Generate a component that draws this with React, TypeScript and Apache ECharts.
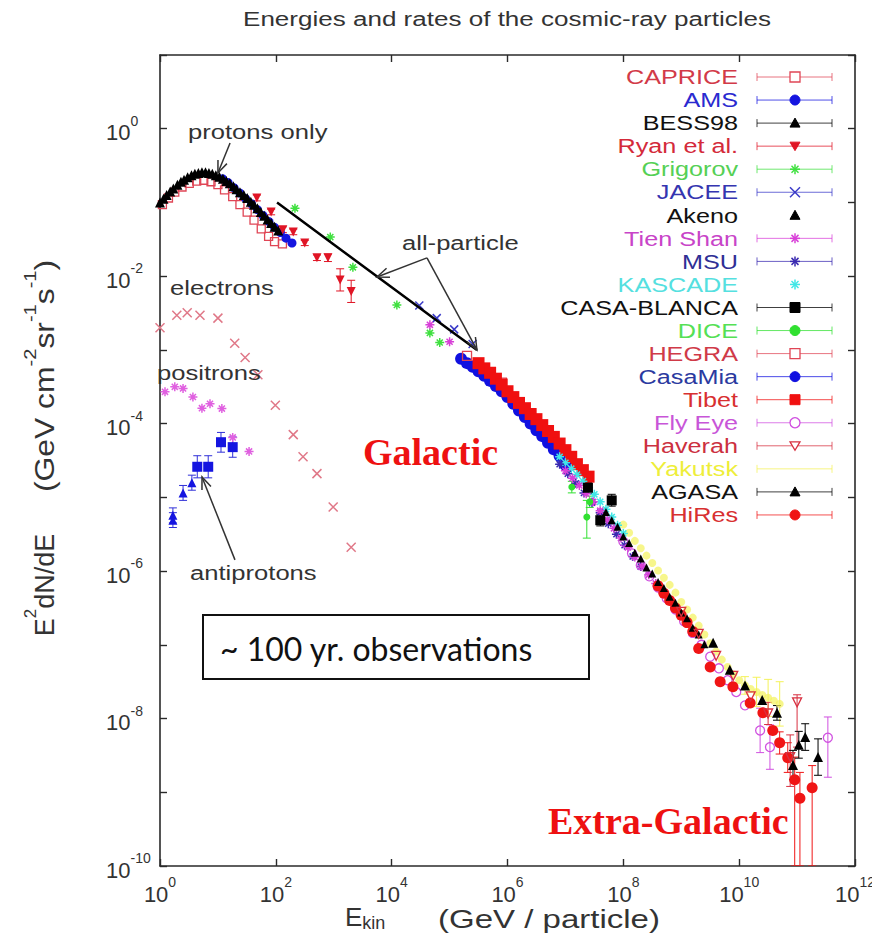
import React, { useEffect, useRef } from 'react';
import * as echarts from 'echarts';

// ---------- axis setup ----------
const X_MIN = 1;
const X_MAX = 1e12;
const Y_MIN = 1e-10;
const Y_MAX = 10;

// ---------- protons (GeV, GeV cm^-2 sr^-1 s^-1) ----------
const bessE = [1.0, 1.15, 1.3, 1.5, 1.7, 2.0, 2.3, 2.6, 3.0, 3.5, 4.0, 4.6, 5.3, 6.1, 7.0, 8.0, 9.2, 10.6, 12.2, 14, 16, 18.5, 21, 24, 28, 32, 37, 42, 48, 55, 63, 72, 83, 95, 110];
const bessF = [0.100, 0.112, 0.126, 0.141, 0.155, 0.174, 0.191, 0.204, 0.219, 0.234, 0.245, 0.251, 0.257, 0.257, 0.251, 0.245, 0.234, 0.224, 0.209, 0.195, 0.182, 0.166, 0.151, 0.138, 0.126, 0.115, 0.102, 0.0933, 0.0832, 0.0741, 0.0661, 0.0589, 0.0525, 0.0468, 0.0417];

const amsE = [12, 15, 19, 24, 30, 38, 48, 60, 76, 95, 120, 150, 190];
const amsF = [0.210, 0.186, 0.158, 0.134, 0.113, 0.096, 0.0800, 0.0665, 0.0550, 0.0460, 0.0390, 0.0328, 0.0282];

const capriceE = [1.1, 1.4, 1.8, 2.4, 3.2, 4.3, 5.7, 7.6, 10, 13, 18, 24, 32, 42, 56, 75, 95, 130];
const capriceF = [0.0933, 0.115, 0.138, 0.162, 0.182, 0.195, 0.200, 0.191, 0.174, 0.148, 0.120, 0.0933, 0.0741, 0.0575, 0.0437, 0.0347, 0.0295, 0.0275];

const ryanE = [47, 83, 132, 200, 316, 513, 794, 1290, 2000];
const ryanF = [0.115, 0.0741, 0.0427, 0.0398, 0.0282, 0.0178, 0.0178, 0.0089, 0.0062];
const ryanLo = [0.105, 0.068, 0.039, 0.0365, 0.026, 0.0163, 0.0158, 0.0063, 0.0044];
const ryanHi = [0.126, 0.081, 0.0467, 0.0435, 0.0306, 0.0194, 0.02, 0.0126, 0.0088];

// ---------- all-particle spectrum ----------
const grigorovE = [214, 871, 2140, 12300, 45700, 67600];
const grigorovF = [0.0832, 0.0339, 0.0132, 0.00407, 0.0017, 0.00126];

const jaceeE = [3e4, 6e4, 1.2e5, 2.5e5];
const jaceeF = [0.004, 0.0027, 0.0019, 0.0012];

const tienShanE = [4.57e4, 1e5, 1e7, 1.32e7, 1.74e7, 2.29e7, 3.02e7, 3.98e7, 5.25e7, 6.9e7, 9.1e7, 1.2e8, 1.58e8, 2.09e8, 2.75e8, 3.63e8, 4.79e8];
const tienShanF = [2.19e-3, 1.29e-3, 2.29e-5, 1.82e-5, 1.45e-5, 1.12e-5, 8.7e-6, 6.6e-6, 5.0e-6, 3.8e-6, 2.82e-6, 2.09e-6, 1.55e-6, 1.17e-6, 8.9e-7, 6.8e-7, 5.1e-7];

const msuE = [7.94e6, 1.1e7, 1.51e7, 2.09e7, 2.88e7, 3.98e7, 5.5e7, 7.6e7, 1.05e8, 1.45e8, 2e8];
const msuF = [2.82e-5, 2.09e-5, 1.55e-5, 1.15e-5, 8.5e-6, 6.2e-6, 4.4e-6, 3.16e-6, 2.24e-6, 1.58e-6, 1.15e-6];

const casaMiaE = [1.58e5, 2.0e5, 2.51e5, 3.16e5, 3.98e5, 5.01e5, 6.31e5, 7.94e5, 1e6, 1.26e6, 1.58e6, 2.0e6, 2.51e6, 3.16e6, 3.98e6, 5.01e6, 6.31e6, 7.94e6, 1e7];
const casaMiaF = [7.59e-4, 6.61e-4, 5.89e-4, 5.13e-4, 4.47e-4, 3.80e-4, 3.24e-4, 2.75e-4, 2.29e-4, 1.86e-4, 1.51e-4, 1.23e-4, 1.0e-4, 8.13e-5, 6.76e-5, 5.50e-5, 4.47e-5, 3.63e-5, 2.75e-5];

const hegraE = [2e5, 3.2e5, 5e5, 8e5];
const hegraF = [8.3e-4, 6.6e-4, 5.0e-4, 3.6e-4];

const tibetE = [3.16e5, 3.98e5, 5.01e5, 6.31e5, 7.94e5, 1e6, 1.26e6, 1.58e6, 2e6, 2.51e6, 3.16e6, 3.98e6, 5.01e6, 6.31e6, 7.94e6, 1e7, 1.26e7, 1.58e7, 2e7, 2.51e7];
const tibetF = [6.61e-4, 5.62e-4, 4.90e-4, 4.07e-4, 3.39e-4, 2.75e-4, 2.29e-4, 1.91e-4, 1.62e-4, 1.35e-4, 1.15e-4, 9.55e-5, 7.94e-5, 6.61e-5, 5.37e-5, 4.37e-5, 3.55e-5, 2.82e-5, 2.34e-5, 1.91e-5];

const kascadeE = [7.94e6, 1e7, 1.26e7, 1.58e7, 2e7, 2.51e7, 3.16e7, 3.98e7, 5.01e7, 6.31e7, 7.94e7, 1e8];
const kascadeF = [3.55e-5, 2.95e-5, 2.45e-5, 2.04e-5, 1.66e-5, 1.35e-5, 1.1e-5, 8.7e-6, 6.9e-6, 5.4e-6, 4.17e-6, 3.24e-6];

const casaBlancaE = [2.45e7, 4e7, 6.3e7];
const casaBlancaF = [1.35e-5, 4.9e-6, 9.1e-6];
const casaBlancaLo = [1.13e-5, 4.1e-6, 7.6e-6];
const casaBlancaHi = [1.6e-5, 5.9e-6, 1.1e-5];

const diceE = [1.29e7, 2.34e7, 2.63e7];
const diceF = [1.38e-5, 5.4e-6, 8.7e-6];
const diceLo = [1.15e-5, 2.8e-6, 7.3e-6];
const diceHi = [1.65e-5, 9.1e-6, 1.04e-5];

const akenoE = [5.01e7, 6.31e7, 7.94e7, 1e8, 1.26e8, 1.58e8, 2e8, 2.51e8, 3.16e8, 3.98e8, 5.01e8, 6.31e8, 7.94e8, 1e9, 1.26e9, 1.58e9, 2e9, 2.51e9];
const akenoF = [6.31e-6, 4.9e-6, 3.98e-6, 2.95e-6, 2.4e-6, 1.78e-6, 1.48e-6, 1.12e-6, 9.3e-7, 7.1e-7, 5.9e-7, 4.47e-7, 3.72e-7, 2.75e-7, 2.29e-7, 1.7e-7, 1.38e-7, 1.02e-7];

const yakutskE = [1e8, 1.26e8, 1.58e8, 2e8, 2.51e8, 3.16e8, 3.98e8, 5.01e8, 6.31e8, 7.94e8, 1e9, 1.26e9, 1.58e9, 2e9, 2.51e9, 3.16e9, 3.98e9, 5.01e9, 6.31e9, 7.94e9, 1e10, 1.26e10, 1.58e10, 2e10, 2.51e10, 3.16e10, 3.98e10, 5.01e10];
const yakutskF = [4.27e-6, 3.31e-6, 2.57e-6, 2.04e-6, 1.62e-6, 1.29e-6, 1.02e-6, 8.1e-7, 6.5e-7, 5.1e-7, 3.8e-7, 3.02e-7, 2.34e-7, 1.82e-7, 1.38e-7, 1.05e-7, 8.1e-8, 6.3e-8, 5.0e-8, 3.98e-8, 3.31e-8, 2.82e-8, 2.51e-8, 2.29e-8, 2.09e-8, 1.91e-8, 1.74e-8, 1.58e-8];
const yakutskErrE = [1.26e10, 2e10, 3.16e10, 5.01e10];
const yakutskLo = [2.14e-8, 1.45e-8, 1.07e-8, 7.9e-9];
const yakutskHi = [3.7e-8, 3.63e-8, 3.4e-8, 3.16e-8];

const flyEyeE = [1e8, 1.41e8, 2e8, 2.82e8, 3.98e8, 5.6e8, 7.94e8, 1.12e9, 1.58e9, 2.24e9, 3.16e9, 4.47e9, 6.31e9, 8.9e9, 1.26e10, 2.3e10, 3.4e10, 3.4e11];
const flyEyeF = [2.51e-6, 1.74e-6, 1.2e-6, 8.5e-7, 6.0e-7, 4.27e-7, 3.02e-7, 2.09e-7, 1.45e-7, 1.0e-7, 6.9e-8, 4.8e-8, 3.31e-8, 2.29e-8, 1.51e-8, 6.9e-9, 4.1e-9, 5.5e-9];
const flyEyeErrE = [2.3e10, 3.4e10, 3.4e11];
const flyEyeLo = [3.45e-9, 2.05e-9, 1.6e-9];
const flyEyeHi = [1.38e-8, 8.2e-9, 1.05e-8];

const haverahE = [1e9, 2e9, 4e9, 7.9e9, 1.58e10, 3.16e10, 7.6e10, 1e11];
const haverahF = [2.8e-7, 1.41e-7, 7.1e-8, 3.8e-8, 2.0e-8, 1.17e-8, 3.0e-9, 1.66e-8];
const haverahErrE = [3.16e10, 7.6e10, 1e11];
const haverahLo = [8.3e-9, 1.2e-9, 4.1e-9];
const haverahHi = [1.66e-8, 6.0e-9, 2.1e-8];

const agasaE = [3.55e9, 6.9e9, 1.26e10, 2.5e10, 4.5e10, 8.5e10, 1.07e11, 1.38e11, 2.3e11];
const agasaF = [1.07e-7, 4.6e-8, 2.8e-8, 1.78e-8, 1.2e-8, 2.34e-9, 4.4e-9, 5.6e-9, 3.0e-9];
const agasaErrE = [4.5e10, 8.5e10, 1.07e11, 1.38e11, 2.3e11];
const agasaLo = [9.5e-9, 1.48e-9, 2.9e-9, 3.7e-9, 1.7e-9];
const agasaHi = [1.5e-8, 3.7e-9, 6.7e-9, 8.5e-9, 5.3e-9];

const hiresE = [3.98e8, 5.01e8, 6.31e8, 7.94e8, 1e9, 1.26e9, 1.58e9, 2e9, 3.16e9, 4.7e9, 7.8e9, 1.55e10, 2.57e10, 3.8e10, 5e10, 6.9e10, 9.1e10, 1.12e11, 1.82e11];
const hiresF = [6.3e-7, 5.0e-7, 3.98e-7, 3.16e-7, 2.51e-7, 2.0e-7, 1.51e-7, 8.9e-8, 5.0e-8, 3.16e-8, 2.7e-8, 1.62e-8, 1.2e-8, 6.9e-9, 4.7e-9, 2.95e-9, 1.48e-9, 8.3e-10, 1.15e-9];
const hiresErrE = [5e10, 6.9e10, 9.1e10, 1.12e11, 1.82e11];
const hiresLo = [3.3e-9, 1.86e-9, 1e-10, 1e-10, 1e-10];
const hiresHi = [6.6e-9, 4.7e-9, 3.0e-9, 1.86e-9, 2.3e-9];

// all-particle fit line
const allParticleE = [105, 1e3, 1e4, 1e5, 2.97e5];
const allParticleF = [0.1, 0.0269, 0.00708, 0.00186, 0.001];

// ---------- electrons, positrons, antiprotons ----------
const electronE = [1.0, 1.95, 2.95, 4.9, 10, 19.5, 29.5, 49, 98, 200, 295, 513, 977, 2000];
const electronF = [2.0e-3, 2.95e-3, 3.2e-3, 2.95e-3, 2.7e-3, 1.23e-3, 7.9e-4, 4.6e-4, 1.78e-4, 7.1e-5, 3.55e-5, 2.1e-5, 7.4e-6, 2.1e-6];

const positronE = [1.22, 1.8, 2.5, 3.7, 5.3, 7.3, 11.7, 18, 34.5];
const positronF = [2.7e-4, 3.16e-4, 3.0e-4, 2.3e-4, 1.62e-4, 1.86e-4, 1.6e-4, 6.5e-5, 4.2e-5];

const pbarSquareE = [4.4, 6.8, 11.3, 18];
const pbarSquareF = [2.6e-5, 2.6e-5, 5.6e-5, 4.8e-5];
const pbarSquareLo = [1.84e-5, 1.84e-5, 4.1e-5, 3.5e-5];
const pbarSquareHi = [3.67e-5, 3.67e-5, 7.6e-5, 6.6e-5];

const pbarTriE = [1.67, 1.67, 2.5, 3.55];
const pbarTriF = [5.7e-6, 4.9e-6, 1.15e-5, 1.58e-5];
const pbarTriLo = [4.5e-6, 3.9e-6, 9.1e-6, 1.25e-5];
const pbarTriHi = [7.2e-6, 6.2e-6, 1.45e-5, 2.0e-5];

// ---------- annotation arrows (tail -> head, in data units) ----------
const protonArrow = [[16.2, 0.64], [10, 0.251]];
const allParticleArrows = [
  [[4.07e4, 0.0177], [5580, 0.00975]],
  [[4.07e4, 0.0177], [2.97e5, 1.0e-3]],
];
const antiprotonArrow = [[19.7, 1.42e-6], [5.31, 1.89e-5]];

// ---------- styling ----------
const SANS = '"Liberation Sans", Arial, Helvetica, sans-serif';
const NARROW = '"Liberation Sans Narrow", "Liberation Sans", Arial, sans-serif';
const SERIF = '"Liberation Serif", "Times New Roman", serif';
const INK = '#2a2a2a';

const ASTERISK = 'path://M5,0L5,10M0,5L10,5M1.6,1.6L8.4,8.4M8.4,1.6L1.6,8.4';
const CROSS = 'path://M0,0L10,10M10,0L0,10';
const DOWN_TRI = 'path://M0,0L10,0L5,8.66Z';

type Kind = 'sq' | 'osq' | 'ci' | 'oci' | 'tri' | 'dtri' | 'odtri' | 'ast' | 'x' | 'dot';

interface Spec {
  name: string;
  E: number[];
  F: number[];
  kind: Kind;
  color: string;
  text: string;
  size: number;
  bar: boolean;
  alpha?: number;
  errE?: number[];
  lo?: number[];
  hi?: number[];
}

// legend order
const experiments: Spec[] = [
  { name: 'CAPRICE', E: capriceE, F: capriceF, kind: 'osq', color: '#e04555', text: '#d23a48', size: 8, bar: true },
  { name: 'AMS', E: amsE, F: amsF, kind: 'ci', color: '#1515e0', text: '#2a2ad0', size: 9, bar: true },
  { name: 'BESS98', E: bessE, F: bessF, kind: 'tri', color: '#000000', text: '#111111', size: 10, bar: true },
  { name: 'Ryan et al.', E: ryanE, F: ryanF, kind: 'dtri', color: '#e01525', text: '#d42a3a', size: 9, bar: true, errE: ryanE, lo: ryanLo, hi: ryanHi },
  { name: 'Grigorov', E: grigorovE, F: grigorovF, kind: 'ast', color: '#40e040', text: '#55d055', size: 9, bar: true },
  { name: 'JACEE', E: jaceeE, F: jaceeF, kind: 'x', color: '#3a3ac8', text: '#3535b0', size: 8, bar: true },
  { name: 'Akeno', E: akenoE, F: akenoF, kind: 'tri', color: '#000000', text: '#111111', size: 8, bar: false },
  { name: 'Tien Shan', E: tienShanE, F: tienShanF, kind: 'ast', color: '#d840d8', text: '#c844c8', size: 9, bar: true },
  { name: 'MSU', E: msuE, F: msuF, kind: 'ast', color: '#3a2ab0', text: '#2f2f95', size: 9, bar: true },
  { name: 'KASCADE', E: kascadeE, F: kascadeF, kind: 'ast', color: '#40e6e6', text: '#55e0e0', size: 9, bar: false },
  { name: 'CASA-BLANCA', E: casaBlancaE, F: casaBlancaF, kind: 'sq', color: '#000000', text: '#111111', size: 10, bar: true, errE: casaBlancaE, lo: casaBlancaLo, hi: casaBlancaHi },
  { name: 'DICE', E: diceE, F: diceF, kind: 'ci', color: '#30e030', text: '#55e055', size: 7, bar: true, errE: diceE, lo: diceLo, hi: diceHi },
  { name: 'HEGRA', E: hegraE, F: hegraF, kind: 'osq', color: '#e04555', text: '#d03a48', size: 9, bar: true },
  { name: 'CasaMia', E: casaMiaE, F: casaMiaF, kind: 'ci', color: '#1010e0', text: '#2b3aa0', size: 12, bar: true },
  { name: 'Tibet', E: tibetE, F: tibetF, kind: 'sq', color: '#f01010', text: '#d83030', size: 12, bar: true },
  { name: 'Fly Eye', E: flyEyeE, F: flyEyeF, kind: 'oci', color: '#d050e0', text: '#c855d8', size: 9, bar: true, errE: flyEyeErrE, lo: flyEyeLo, hi: flyEyeHi },
  { name: 'Haverah', E: haverahE, F: haverahF, kind: 'odtri', color: '#d83040', text: '#cc3040', size: 9, bar: true, errE: haverahErrE, lo: haverahLo, hi: haverahHi },
  { name: 'Yakutsk', E: yakutskE, F: yakutskF, kind: 'dot', color: '#f4f25a', text: '#eeee3a', size: 8, bar: true, alpha: 0.7, errE: yakutskErrE, lo: yakutskLo, hi: yakutskHi },
  { name: 'AGASA', E: agasaE, F: agasaF, kind: 'tri', color: '#000000', text: '#111111', size: 10, bar: true, errE: agasaErrE, lo: agasaLo, hi: agasaHi },
  { name: 'HiRes', E: hiresE, F: hiresF, kind: 'ci', color: '#f01515', text: '#d83030', size: 11, bar: true, errE: hiresErrE, lo: hiresLo, hi: hiresHi },
];

// drawing order (later on top)
const drawOrder = ['CAPRICE', 'AMS', 'BESS98', 'Ryan et al.', 'Grigorov', 'JACEE', 'CasaMia', 'HEGRA', 'Tibet',
  'Yakutsk', 'KASCADE', 'MSU', 'Tien Shan', 'DICE', 'CASA-BLANCA', 'Fly Eye', 'HiRes', 'Akeno', 'Haverah', 'AGASA'];

const zip = (a: number[], b: number[]) => a.map((v, i) => [v, b[i]]);

function symbolOf(kind: Kind): any {
  switch (kind) {
    case 'sq':
    case 'osq':
      return { symbol: 'rect' };
    case 'ci':
    case 'oci':
    case 'dot':
      return { symbol: 'circle' };
    case 'tri':
      return { symbol: 'triangle' };
    case 'dtri':
    case 'odtri':
      return { symbol: DOWN_TRI };
    case 'ast':
      return { symbol: ASTERISK };
    case 'x':
      return { symbol: CROSS };
  }
}

function scatterSeries(name: string, E: number[], F: number[], kind: Kind, color: string, size: number, alpha = 1): any {
  const open = kind === 'osq' || kind === 'oci' || kind === 'odtri';
  const stroked = kind === 'ast' || kind === 'x';
  let itemStyle: any = { color, opacity: alpha };
  if (open) itemStyle = { color: 'rgba(255,255,255,0)', borderColor: color, borderWidth: 1.3, opacity: alpha };
  if (stroked) itemStyle = { color: 'rgba(255,255,255,0)', borderColor: color, borderWidth: 1.5, opacity: alpha };
  return {
    type: 'scatter',
    name,
    data: zip(E, F),
    ...symbolOf(kind),
    symbolSize: size,
    itemStyle,
    silent: true,
    clip: true,
  };
}

function errorSeries(E: number[], lo: number[], hi: number[], color: string, cap = 4): any {
  return {
    type: 'custom',
    data: E.map((e, i) => [e, lo[i], hi[i]]),
    encode: { x: 0, y: [1, 2] },
    silent: true,
    clip: true,
    z: 1,
    renderItem: (_params: any, api: any) => {
      const top = api.coord([api.value(0), api.value(2)]);
      const bot = api.coord([api.value(0), api.value(1)]);
      const st = { stroke: color, lineWidth: 1 };
      return {
        type: 'group',
        children: [
          { type: 'line', shape: { x1: top[0], y1: top[1], x2: bot[0], y2: bot[1] }, style: st },
          { type: 'line', shape: { x1: top[0] - cap, y1: top[1], x2: top[0] + cap, y2: top[1] }, style: st },
          { type: 'line', shape: { x1: bot[0] - cap, y1: bot[1], x2: bot[0] + cap, y2: bot[1] }, style: st },
        ],
      };
    },
  };
}

const tickRich = {
  b: { fontSize: 22, fontFamily: NARROW, color: '#333', lineHeight: 30, verticalAlign: 'bottom' },
  s: { fontSize: 14, fontFamily: NARROW, color: '#333', lineHeight: 30, verticalAlign: 'top' },
};

const expOf = (v: number) => Math.round(Math.log10(v));

function axisBase(): any {
  return {
    type: 'log',
    logBase: 10,
    axisLine: { show: true, onZero: false, lineStyle: { color: INK, width: 1.6 } },
    axisTick: { show: true, inside: true, length: 7, lineStyle: { color: INK, width: 1.4 } },
    splitLine: { show: false },
    minorTick: { show: false },
    minorSplitLine: { show: false },
  };
}

function buildOption(): any {
  const series: any[] = [];

  // electrons / positrons / antiprotons
  series.push(scatterSeries('electrons', electronE, electronF, 'x', '#e07888', 9));
  series.push(scatterSeries('positrons', positronE, positronF, 'ast', '#e060e0', 9));
  series.push(errorSeries(pbarSquareE, pbarSquareLo, pbarSquareHi, '#3030d8'));
  series.push(errorSeries(pbarTriE, pbarTriLo, pbarTriHi, '#3030d8'));
  series.push(scatterSeries('antiprotons (sq)', pbarSquareE, pbarSquareF, 'sq', '#1515e0', 10));
  series.push(scatterSeries('antiprotons (tri)', pbarTriE, pbarTriF, 'tri', '#1515e0', 9));

  for (const n of drawOrder) {
    const s = experiments.find((x) => x.name === n)!;
    if (s.errE && s.lo && s.hi) series.push(errorSeries(s.errE, s.lo, s.hi, s.color));
    series.push(scatterSeries(s.name, s.E, s.F, s.kind, s.color, s.size, s.alpha ?? 1));
    if (n === 'Ryan et al.') {
      series.push({
        type: 'line',
        name: 'all-particle',
        data: zip(allParticleE, allParticleF),
        showSymbol: false,
        lineStyle: { color: '#000', width: 2.5 },
        silent: true,
        z: 3,
      });
    }
  }

  return {
    animation: false,
    backgroundColor: '#ffffff',
    grid: { left: 160, right: 17, top: 55, bottom: 75, outerBoundsMode: 'none' },
    xAxis: [
      {
        ...axisBase(),
        position: 'bottom',
        min: X_MIN,
        max: X_MAX,
        interval: 2,
        axisLabel: {
          margin: 9,
          formatter: (v: number) => `{b|10}{s|${expOf(v)}}`,
          rich: tickRich,
        },
      },
      { ...axisBase(), position: 'top', min: X_MIN, max: X_MAX, interval: 2, axisLabel: { show: false } },
    ],
    yAxis: [
      {
        ...axisBase(),
        position: 'left',
        min: Y_MIN,
        max: Y_MAX,
        interval: 1,
        axisLabel: {
          margin: 54,
          align: 'left',
          formatter: (v: number) => {
            const e = expOf(v);
            return e % 2 === 0 ? `{b|10}{s|${e}}` : '';
          },
          rich: tickRich,
        },
      },
      { ...axisBase(), position: 'right', min: Y_MIN, max: Y_MAX, interval: 1, axisLabel: { show: false } },
    ],
    series,
  };
}

function legendMarker(kind: Kind, cx: number, cy: number, color: string): any[] {
  const fillSt = { fill: color, stroke: color, lineWidth: 1 };
  const openSt = { fill: '#ffffff', stroke: color, lineWidth: 1.3 };
  const lineSt = { stroke: color, lineWidth: 1.5 };
  switch (kind) {
    case 'sq':
      return [{ type: 'rect', shape: { x: cx - 5, y: cy - 5, width: 10, height: 10 }, style: fillSt }];
    case 'osq':
      return [{ type: 'rect', shape: { x: cx - 5, y: cy - 5, width: 10, height: 10 }, style: openSt }];
    case 'ci':
      return [{ type: 'circle', shape: { cx, cy, r: 5 }, style: fillSt }];
    case 'oci':
      return [{ type: 'circle', shape: { cx, cy, r: 5 }, style: openSt }];
    case 'tri':
      return [{ type: 'polygon', shape: { points: [[cx, cy - 5], [cx - 5, cy + 4], [cx + 5, cy + 4]] }, style: fillSt }];
    case 'dtri':
      return [{ type: 'polygon', shape: { points: [[cx - 5, cy - 4], [cx + 5, cy - 4], [cx, cy + 4.5]] }, style: fillSt }];
    case 'odtri':
      return [{ type: 'polygon', shape: { points: [[cx - 5, cy - 4], [cx + 5, cy - 4], [cx, cy + 4.5]] }, style: openSt }];
    case 'ast':
      return [
        { type: 'line', shape: { x1: cx - 5, y1: cy, x2: cx + 5, y2: cy }, style: lineSt },
        { type: 'line', shape: { x1: cx, y1: cy - 5, x2: cx, y2: cy + 5 }, style: lineSt },
        { type: 'line', shape: { x1: cx - 3.5, y1: cy - 3.5, x2: cx + 3.5, y2: cy + 3.5 }, style: lineSt },
        { type: 'line', shape: { x1: cx + 3.5, y1: cy - 3.5, x2: cx - 3.5, y2: cy + 3.5 }, style: lineSt },
      ];
    case 'x':
      return [
        { type: 'line', shape: { x1: cx - 5, y1: cy - 5, x2: cx + 5, y2: cy + 5 }, style: lineSt },
        { type: 'line', shape: { x1: cx + 5, y1: cy - 5, x2: cx - 5, y2: cy + 5 }, style: lineSt },
      ];
    default:
      return [];
  }
}

function arrow(p: number[], q: number[]): any[] {
  const ang = Math.atan2(q[1] - p[1], q[0] - p[0]);
  const len = 13;
  const spread = 0.38;
  const a1 = [q[0] - len * Math.cos(ang - spread), q[1] - len * Math.sin(ang - spread)];
  const a2 = [q[0] - len * Math.cos(ang + spread), q[1] - len * Math.sin(ang + spread)];
  const st = { stroke: '#333', lineWidth: 1.5, fill: 'none' };
  return [
    { type: 'line', shape: { x1: p[0], y1: p[1], x2: q[0], y2: q[1] }, style: st, z: 50 },
    { type: 'polyline', shape: { points: [a1, q, a2] }, style: st, z: 50 },
  ];
}

function label(text: string, x: number, y: number): any {
  return {
    type: 'text', x, y, scaleX: 1.28, z: 50,
    style: { text, fontSize: 20, fontFamily: SANS, fill: '#333', align: 'left', verticalAlign: 'middle' },
  };
}

function buildGraphic(chart: any): any[] {
  const px = (d: number[]) => chart.convertToPixel({ xAxisIndex: 0, yAxisIndex: 0 }, d) as number[];
  const g: any[] = [];

  // title
  g.push({
    type: 'text', x: 507, y: 19, scaleX: 1.24,
    style: { text: 'Energies and rates of the cosmic-ray particles', fontSize: 21, fontFamily: SANS, fill: '#333', align: 'center', verticalAlign: 'middle' },
  });

  // legend
  experiments.forEach((s, i) => {
    const cy = 77 + i * 23.05;
    g.push({
      type: 'text', x: 738, y: cy, scaleX: 1.2, z: 60,
      style: { text: s.name, fontSize: 21, fontFamily: SANS, fill: s.text, align: 'right', verticalAlign: 'middle' },
    });
    if (s.bar) {
      const st = { stroke: s.color, lineWidth: 1, opacity: 0.75 };
      g.push({ type: 'line', z: 60, shape: { x1: 757, y1: cy, x2: 832, y2: cy }, style: st });
      g.push({ type: 'line', z: 60, shape: { x1: 757, y1: cy - 4, x2: 757, y2: cy + 4 }, style: st });
      g.push({ type: 'line', z: 60, shape: { x1: 832, y1: cy - 4, x2: 832, y2: cy + 4 }, style: st });
    }
    legendMarker(s.kind, 795, cy, s.color).forEach((m) => g.push({ ...m, z: 61 }));
  });

  // annotations
  g.push(label('protons only', 188, 132));
  g.push(...arrow(px(protonArrow[0]), px(protonArrow[1])));
  g.push(label('all-particle', 402, 243));
  allParticleArrows.forEach((a) => g.push(...arrow(px(a[0]), px(a[1]))));
  g.push(label('electrons', 170, 288));
  g.push(label('positrons', 157, 373));
  g.push(label('antiprotons', 190, 573));
  g.push(...arrow(px(antiprotonArrow[0]), px(antiprotonArrow[1])));

  // regions
  g.push({
    type: 'text', x: 363, y: 452, z: 55,
    style: { text: 'Galactic', fontSize: 38, fontWeight: 'bold', fontFamily: SERIF, fill: '#ee1111', align: 'left', verticalAlign: 'middle' },
  });
  g.push({
    type: 'text', x: 548, y: 821, z: 55,
    style: { text: 'Extra-Galactic', fontSize: 38, fontWeight: 'bold', fontFamily: SERIF, fill: '#ee1111', align: 'left', verticalAlign: 'middle' },
  });

  // boxed note
  g.push({ type: 'rect', z: 55, shape: { x: 203, y: 615, width: 386, height: 64 }, style: { fill: '#ffffff', stroke: '#111', lineWidth: 2 } });
  g.push({
    type: 'text', x: 220, y: 648, z: 56,
    style: { text: '~ 100 yr. observations', fontSize: 32, fontFamily: 'Lato, "Open Sans", sans-serif', fill: '#111', align: 'left', verticalAlign: 'middle' },
  });

  // axis titles
  const yRich = {
    m: { fontSize: 27, fontFamily: SANS, fill: '#333', lineHeight: 36, verticalAlign: 'bottom' },
    s: { fontSize: 17, fontFamily: SANS, fill: '#333', lineHeight: 36, verticalAlign: 'top' },
  };
  g.push({
    type: 'text', x: 40, y: 585, rotation: Math.PI / 2,
    style: { text: '{m|E}{s|2}{m|dN/dE}', rich: yRich, align: 'center', verticalAlign: 'middle' },
  });
  g.push({
    type: 'text', x: 40, y: 376, rotation: Math.PI / 2, scaleX: 1.18,
    style: { text: '{m|(GeV cm}{s|-2}{m|sr}{s|-1}{m|s}{s|-1}{m|)}', rich: yRich, align: 'center', verticalAlign: 'middle' },
  });

  const xRich = {
    m: { fontSize: 26, fontFamily: SANS, fill: '#333', lineHeight: 28, verticalAlign: 'top' },
    u: { fontSize: 18, fontFamily: SANS, fill: '#333', lineHeight: 28, verticalAlign: 'bottom' },
  };
  g.push({
    type: 'text', x: 345, y: 918,
    style: { text: '{m|E}{u|kin}', rich: xRich, align: 'left', verticalAlign: 'middle' },
  });
  g.push({
    type: 'text', x: 438, y: 919, scaleX: 1.27,
    style: { text: '(GeV / particle)', fontSize: 26, fontFamily: SANS, fill: '#333', align: 'left', verticalAlign: 'middle' },
  });

  return g;
}

export default function App() {
  const ref = useRef<HTMLDivElement>(null);
  useEffect(() => {
    if (!ref.current) return;
    const chart = echarts.init(ref.current, null, { renderer: 'svg' });
    chart.setOption(buildOption());
    chart.setOption({ graphic: buildGraphic(chart) });
    return () => chart.dispose();
  }, []);
  return (
    <div
      ref={ref}
      style={{ position: 'fixed', left: 0, top: 0, width: 872, height: 941, background: '#ffffff' }}
    />
  );
}
